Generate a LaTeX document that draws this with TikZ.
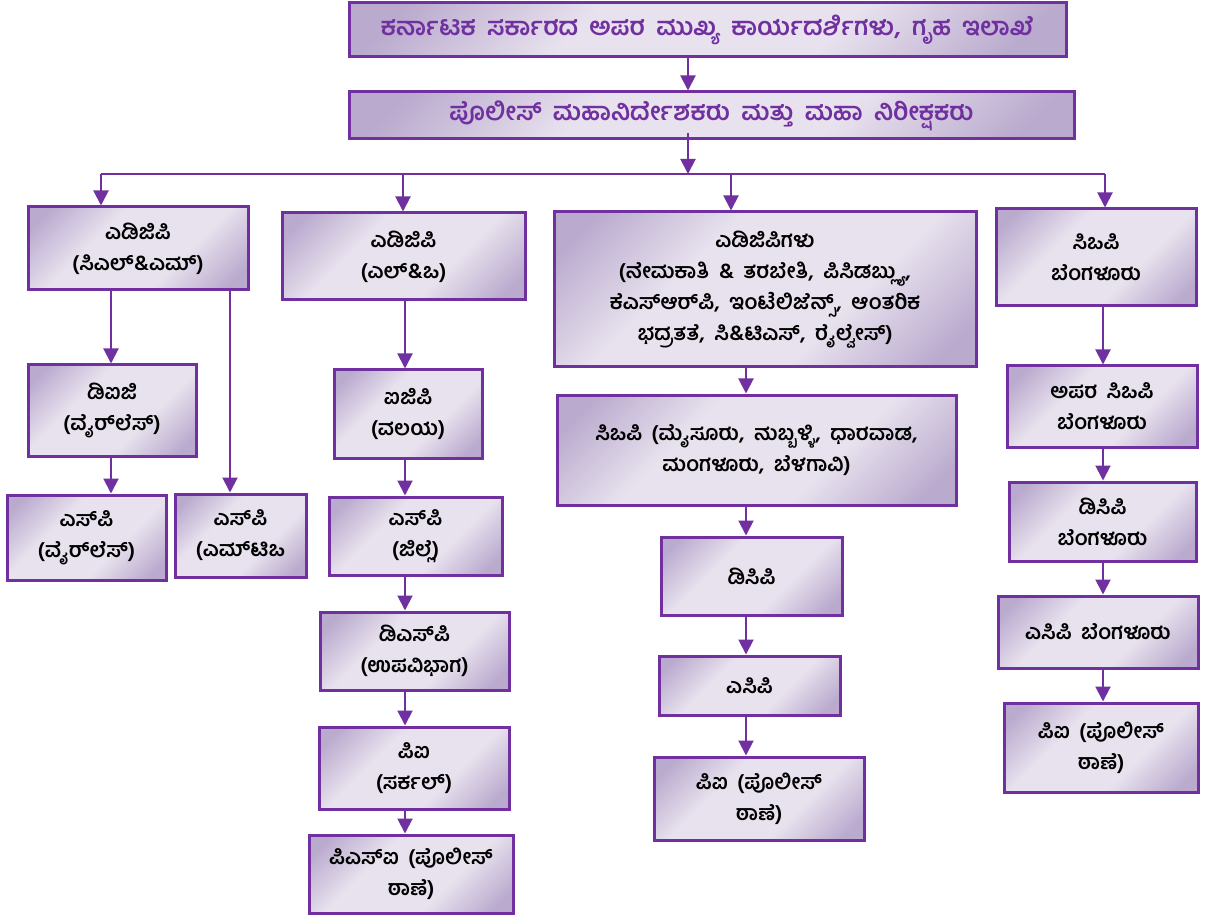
\documentclass[tikz,border=0pt]{standalone}
\usepackage{fontspec}
\newfontfamily\kn[Script=Kannada, WordSpace=1.8]{Hind Mysuru}
\usetikzlibrary{arrows.meta}
\definecolor{kpurple}{HTML}{7030A0}
\definecolor{klight}{HTML}{E8E2EE}
\definecolor{kdark}{HTML}{BAAACE}
\pgfdeclareverticalshading{boxshade}{100bp}{color(0bp)=(kdark); color(20bp)=(kdark);
    color(38bp)=(klight); color(62bp)=(klight); color(80bp)=(kdark); color(100bp)=(kdark)}
\tikzset{
    box/.style={ % every rank box
        draw=kpurple, line width=3pt,
        shading=boxshade, shading angle=45,
        align=center, inner sep=2pt,
        font=\kn\bfseries\fontsize{21}{31}\selectfont
    },
    head/.style={box, text=kpurple, font=\kn\bfseries\fontsize{25}{28}\selectfont},
    arr/.style={draw=kpurple, line width=2pt, -{Triangle[width=15pt,length=15pt]}},
    bus/.style={draw=kpurple, line width=2pt}
}

\begin{document}
\begin{tikzpicture}[x=1pt, y=-1pt]
    \useasboundingbox (0,0) rectangle (1208,917);
    % top two
    \node[head, minimum width=717pt, minimum height=54pt] (top) at (707.5,30)
        {ಕರ್ನಾಟಕ ಸರ್ಕಾರದ ಅಪರ ಮುಖ್ಯ ಕಾರ್ಯದರ್ಶಿಗಳು, ಗೃಹ ಇಲಾಖೆ};
    \node[head, minimum width=725pt, minimum height=47pt] (dgp) at (711.5,115.5)
        {ಪೊಲೀಸ್ ಮಹಾನಿರ್ದೇಶಕರು ಮತ್ತು ಮಹಾ ನಿರೀಕ್ಷಕರು};
    % adgp row
    \node[box, minimum width=220pt, minimum height=83pt] (adgpcm) at (138,248.5)
        {ಎಡಿಜಿಪಿ\\(ಸಿಎಲ್\&ಎಮ್)};
    \node[box, minimum width=243pt, minimum height=87pt] (adgplo) at (403.5,256.5)
        {ಎಡಿಜಿಪಿ\\(ಎಲ್\&ಒ)};
    \node[box, minimum width=422pt, minimum height=155pt] (adgps) at (765,289.5)
        {ಎಡಿಜಿಪಿಗಳು\\(ನೇಮಕಾತಿ \& ತರಬೇತಿ, ಪಿಸಿಡಬ್ಲ್ಯು,\\ಕೆಎಸ್‌ಆರ್‌ಪಿ, ಇಂಟೆಲಿಜೆನ್ಸ್, ಆಂತರಿಕ\\ಭದ್ರತತೆ, ಸಿ\&ಟಿಎಸ್, ರೈಲ್ವೇಸ್)};
    \node[box, minimum width=200pt, minimum height=97pt] (copb) at (1096,257.5)
        {ಸಿಒಪಿ\\ಬೆಂಗಳೂರು};
    % left column
    \node[box, minimum width=168pt, minimum height=91pt] (dig) at (112,410.5)
        {ಡಿಐಜಿ\\(ವೈರ್‌ಲೆಸ್)};
    \node[box, minimum width=159pt, minimum height=85pt] (spw) at (86.5,537.5)
        {ಎಸ್‌ಪಿ\\(ವೈರ್‌ಲೆಸ್)};
    \node[box, minimum width=131pt, minimum height=83pt] (spmto) at (240.5,535.5)
        {ಎಸ್‌ಪಿ\\(ಎಮ್‌ಟಿಒ};
    % law and order column
    \node[box, minimum width=148pt, minimum height=88pt] (igp) at (408,414)
        {ಐಜಿಪಿ\\(ವಲಯ)};
    \node[box, minimum width=173pt, minimum height=78pt] (spd) at (415.5,536)
        {ಎಸ್‌ಪಿ\\(ಜಿಲ್ಲೆ)};
    \node[box, minimum width=189pt, minimum height=78pt] (dsp) at (414.5,651)
        {ಡಿಎಸ್‌ಪಿ\\(ಉಪವಿಭಾಗ)};
    \node[box, minimum width=190pt, minimum height=82pt] (pic) at (414,768)
        {ಪಿಐ\\(ಸರ್ಕಲ್)};
    \node[box, minimum width=204pt, minimum height=78pt] (psi) at (411,874)
        {ಪಿಎಸ್‌ಐ (ಪೊಲೀಸ್\\ಠಾಣೆ)};
    % commissionerate column
    \node[box, minimum width=399pt, minimum height=110pt] (cpc) at (756.5,450)
        {ಸಿಒಪಿ (ಮೈಸೂರು, ಹುಬ್ಬಳ್ಳಿ, ಧಾರವಾಡ,\\ಮಂಗಳೂರು, ಬೆಳಗಾವಿ)};
    \node[box, minimum width=181pt, minimum height=78pt] (dcp) at (751.5,576) {ಡಿಸಿಪಿ};
    \node[box, minimum width=181pt, minimum height=59pt] (acp) at (749.5,685.5) {ಎಸಿಪಿ};
    \node[box, minimum width=210pt, minimum height=83pt] (pim) at (759,798.5)
        {ಪಿಐ (ಪೊಲೀಸ್\\ಠಾಣೆ)};
    % bengaluru column
    \node[box, minimum width=190pt, minimum height=81pt] (acpb) at (1102,406.5)
        {ಅಪರ ಸಿಒಪಿ\\ಬೆಂಗಳೂರು};
    \node[box, minimum width=187pt, minimum height=79pt] (dcpb) at (1102.5,521.5)
        {ಡಿಸಿಪಿ\\ಬೆಂಗಳೂರು};
    \node[box, minimum width=200pt, minimum height=72pt] (asstb) at (1098,632)
        {ಎಸಿಪಿ ಬೆಂಗಳೂರು};
    \node[box, minimum width=194pt, minimum height=89pt] (pib) at (1101,747.5)
        {ಪಿಐ (ಪೊಲೀಸ್\\ಠಾಣೆ)};

    % bus and column guides
    \coordinate (trunk) at (688,174);
    \coordinate (b1) at (101,174);
    \coordinate (b2) at (403,174);
    \coordinate (b3) at (731,174);
    \coordinate (b4) at (1105,174);
    \coordinate (colA) at (111,0);
    \coordinate (colM) at (230,0);
    \coordinate (colB) at (405,0);
    \coordinate (colC) at (746,0);
    \coordinate (colD) at (1103,0);

    \draw[arr] (top.south -| trunk) -- (dgp.north -| trunk);
    \draw[arr] ([yshift=7pt]dgp.south -| trunk) -- (trunk);
    \draw[bus] (b1) -- (b4);
    \draw[arr] (b1) -- (b1 |- adgpcm.north);
    \draw[arr] (b2) -- (b2 |- adgplo.north);
    \draw[arr] (b3) -- (b3 |- adgps.north);
    \draw[arr] (b4) -- (b4 |- copb.north);
    % left
    \draw[arr] (adgpcm.south -| colA) -- (dig.north -| colA);
    \draw[arr] (dig.south -| colA) -- (spw.north -| colA);
    \draw[arr] (adgpcm.south -| colM) -- (spmto.north -| colM);
    % law and order
    \draw[arr] (adgplo.south -| colB) -- (igp.north -| colB);
    \draw[arr] (igp.south -| colB) -- (spd.north -| colB);
    \draw[arr] (spd.south -| colB) -- (dsp.north -| colB);
    \draw[arr] (dsp.south -| colB) -- (pic.north -| colB);
    \draw[arr] (pic.south -| colB) -- (psi.north -| colB);
    % commissionerates
    \draw[arr] (adgps.south -| colC) -- (cpc.north -| colC);
    \draw[arr] (cpc.south -| colC) -- (dcp.north -| colC);
    \draw[arr] (dcp.south -| colC) -- (acp.north -| colC);
    \draw[arr] (acp.south -| colC) -- (pim.north -| colC);
    % bengaluru
    \draw[arr] (copb.south -| colD) -- (acpb.north -| colD);
    \draw[arr] (acpb.south -| colD) -- (dcpb.north -| colD);
    \draw[arr] (dcpb.south -| colD) -- (asstb.north -| colD);
    \draw[arr] (asstb.south -| colD) -- (pib.north -| colD);
\end{tikzpicture}
\end{document}
